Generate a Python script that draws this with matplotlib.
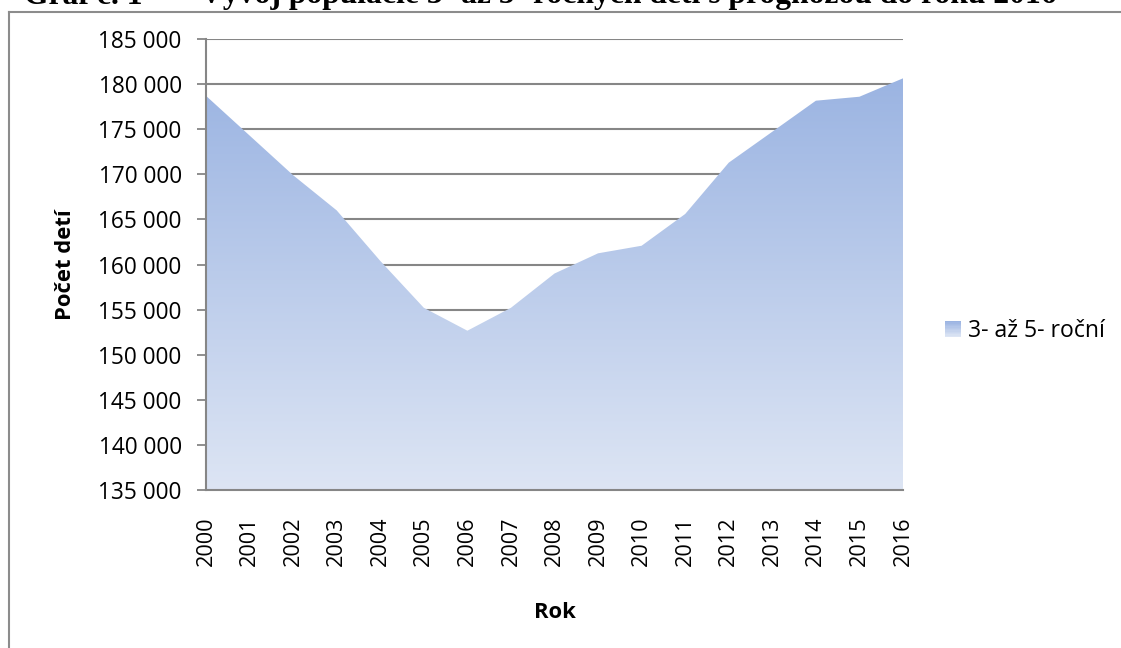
import numpy as np
import matplotlib
matplotlib.use("Agg")
import matplotlib.pyplot as plt
from matplotlib.colors import LinearSegmentedColormap
from matplotlib.lines import Line2D
from matplotlib.patches import Rectangle
from matplotlib.legend_handler import HandlerPatch

years = list(range(2000, 2017))
children = [178700, 174300, 169900, 166000, 160400, 155200, 152660, 155200,
            159000, 161240, 162080, 165600, 171290, 174720, 178160, 178600, 180640]
series_name = "3- až 5- roční"
y_ticks = list(range(135000, 185001, 5000))

plt.rcParams['font.family'] = ['Open Sans', 'DejaVu Sans']

W, H = 1121, 648
fig = plt.figure(figsize=(W / 100, H / 100), dpi=100)
ax = fig.add_axes([206 / W, 1 - 490 / H, (903 - 206) / W, (490 - 39) / H])

ymin, ymax = 135000, 185000
x = np.arange(len(years))

# vertical gradient fill under the series
grad_cmap = LinearSegmentedColormap.from_list("area", ["#dde5f4", "#9bb4e2"])
poly = ax.fill_between(x, ymin, children, color="none", lw=0, zorder=2)
top = max(children)
grad = np.linspace(0, 1, 256).reshape(-1, 1)
img = ax.imshow(grad, cmap=grad_cmap, origin="lower", aspect="auto",
                extent=[x[0], x[-1], ymin, top], zorder=2)
img.set_clip_path(poly.get_paths()[0], transform=ax.transData)

ax.set_xlim(x[0], x[-1])
ax.set_ylim(ymin, ymax)
ax.set_yticks(y_ticks)
ax.set_yticklabels([f"{v:,}".replace(",", " ") for v in y_ticks], fontsize=16.3)
ax.set_xticks(x)
ax.set_xticklabels([str(y) for y in years], rotation=90, fontsize=15.6)
ax.tick_params(axis="x", length=0, pad=19)
ax.tick_params(axis="y", length=6.5, width=1.3, color="#868686", pad=11)
ax.grid(axis="y", color="#868686", lw=1.5, zorder=1)
ax.set_axisbelow(True)
for s in ("top", "right"):
    ax.spines[s].set_visible(False)
for s in ("left", "bottom"):
    ax.spines[s].set_color("#868686")
    ax.spines[s].set_linewidth(1.5)
    ax.spines[s].set_zorder(3)

ax.set_ylabel("Počet detí", fontsize=15.8, fontweight="bold", labelpad=16)
ax.set_xlabel("Rok", fontsize=15.8, fontweight="bold", labelpad=26)


class GradientHandler(HandlerPatch):
    def create_artists(self, legend, orig_handle, xdescent, ydescent,
                       width, height, fontsize, trans):
        arts = []
        n = 12
        for i in range(n):
            c = grad_cmap(1 - i / (n - 1))
            r = Rectangle((-xdescent, -ydescent + height * (1 - (i + 1) / n)),
                          width, height / n, facecolor=c, edgecolor="none",
                          transform=trans)
            arts.append(r)
        return arts


handle = Rectangle((0, 0), 1, 1)
fig.legend([handle], [series_name], loc="center left",
           bbox_to_anchor=(945 / W, 1 - 331 / H), frameon=False,
           borderpad=0, borderaxespad=0,
           fontsize=16.6, handlelength=0.7, handleheight=0.7,
           handletextpad=0.3, handler_map={Rectangle: GradientHandler()})

# outer chart frame
fig.add_artist(Line2D([8.5 / W, 8.5 / W], [0, 1 - 11.5 / H],
                      transform=fig.transFigure, color="#8c8c8c", lw=1.5))
fig.add_artist(Line2D([8.5 / W, 1], [1 - 11.5 / H, 1 - 11.5 / H],
                      transform=fig.transFigure, color="#8c8c8c", lw=1.5))

# caption above the chart
fig.text(24 / W, 1 - 3.5 / H, "Graf č. 1", fontsize=22.8, fontweight="bold",
         family="Liberation Serif", va="baseline", ha="left")
fig.text(200 / W, 1 - 3.5 / H,
         "Vývoj populácie 3- až 5- ročných detí s prognózou do roku 2016",
         fontsize=22.8, fontweight="bold", family="Liberation Serif",
         va="baseline", ha="left")

fig.savefig("out.png", dpi=100)
